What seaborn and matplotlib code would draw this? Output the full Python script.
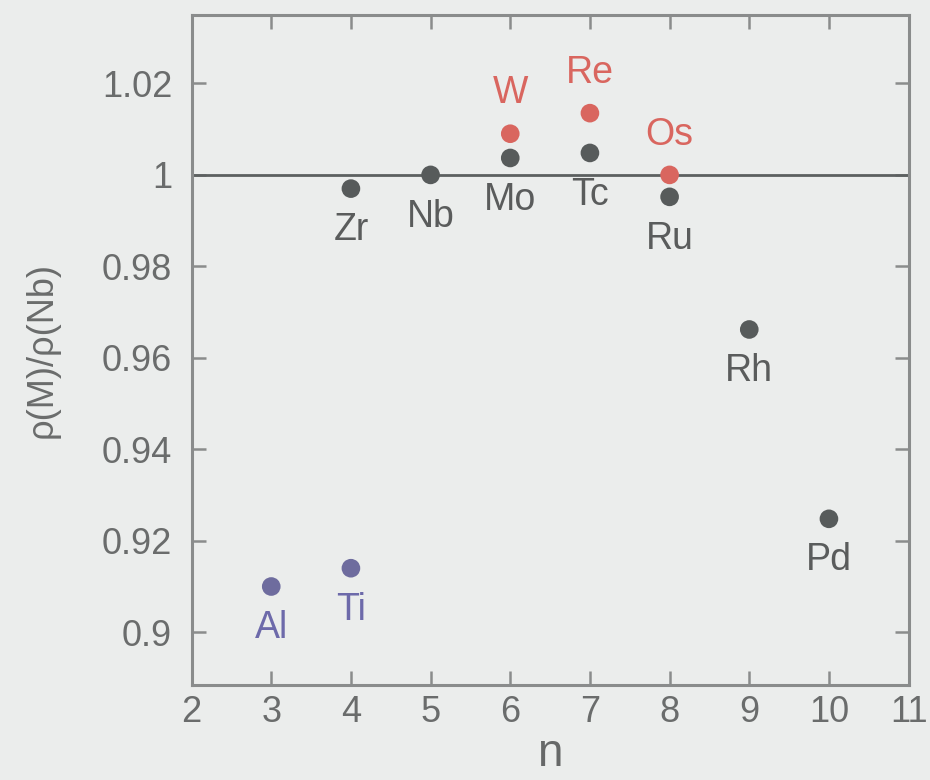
import matplotlib
matplotlib.use("Agg")
import matplotlib.pyplot as plt
import matplotlib.ticker as mticker
import numpy as np
import pandas as pd
import seaborn as sns

# Element data: number of valence electrons n and density ratio rho(M)/rho(Nb)
elements = ["Al", "Ti", "Zr", "Nb", "Mo", "Tc", "Ru", "Rh", "Pd", "W", "Re", "Os"]
n_values = [3, 4, 4, 5, 6, 7, 8, 9, 10, 6, 7, 8]
ratios = [0.910, 0.914, 0.997, 1.000, 1.0037, 1.0048, 0.9952, 0.9662, 0.9248,
          1.009, 1.0135, 1.000]
groups = ["sp", "sp", "4d", "4d", "4d", "4d", "4d", "4d", "4d", "5d", "5d", "5d"]

x_ticks = [2, 3, 4, 5, 6, 7, 8, 9, 10, 11]
y_ticks = [0.90, 0.92, 0.94, 0.96, 0.98, 1.00, 1.02]

palette = {"sp": "#6e6c9e", "4d": "#575b5b", "5d": "#d9665f"}
label_colors = {"sp": "#6d6aaa", "4d": "#5a5c5c", "5d": "#d9665f"}

df = pd.DataFrame({"element": elements, "n": n_values, "ratio": ratios, "group": groups})

bg = "#ebedec"
sns.set_theme(style="ticks")
plt.rcParams["font.family"] = ["Liberation Sans", "DejaVu Sans"]

fig = plt.figure(figsize=(9.3, 7.8), dpi=100, facecolor=bg)
ax = fig.add_axes([0.206, 0.122, 0.771, 0.859])
ax.set_facecolor(bg)

# reference line at rho(M) = rho(Nb)
ax.axhline(1.0, color="#5c6060", lw=2.0, zorder=1)

sns.scatterplot(data=df, x="n", y="ratio", hue="group", palette=palette,
                s=180, edgecolor="none", legend=False, ax=ax, zorder=3)

for _, row in df.iterrows():
    above = row["group"] == "5d"
    ax.annotate(row["element"], (row["n"], row["ratio"]),
                xytext=(0, 29 if above else -30), textcoords="offset points",
                ha="center", va="center", fontsize=27,
                color=label_colors[row["group"]])

ax.set_xlim(2, 11)
ax.set_ylim(0.8885, 1.035)
ax.set_xticks(x_ticks)
ax.set_yticks(y_ticks)
ax.yaxis.set_major_formatter(mticker.FuncFormatter(lambda v, p: f"{v:g}"))

ax.tick_params(axis="both", direction="in", length=10, width=1.8,
               color="#8a8c8c", labelcolor="#6a6c6c", labelsize=26,
               top=True, right=True)
ax.tick_params(axis="y", pad=14)
ax.tick_params(axis="x", pad=7)
for sp in ax.spines.values():
    sp.set_color("#8a8c8c")
    sp.set_linewidth(2.2)

ax.set_xlabel("n", fontsize=33, color="#666868", labelpad=2)
ax.set_ylabel("ρ(M)/ρ(Nb)", fontsize=26, color="#6a6c6c", labelpad=30)

fig.savefig("out.png", dpi=100, facecolor=bg)
